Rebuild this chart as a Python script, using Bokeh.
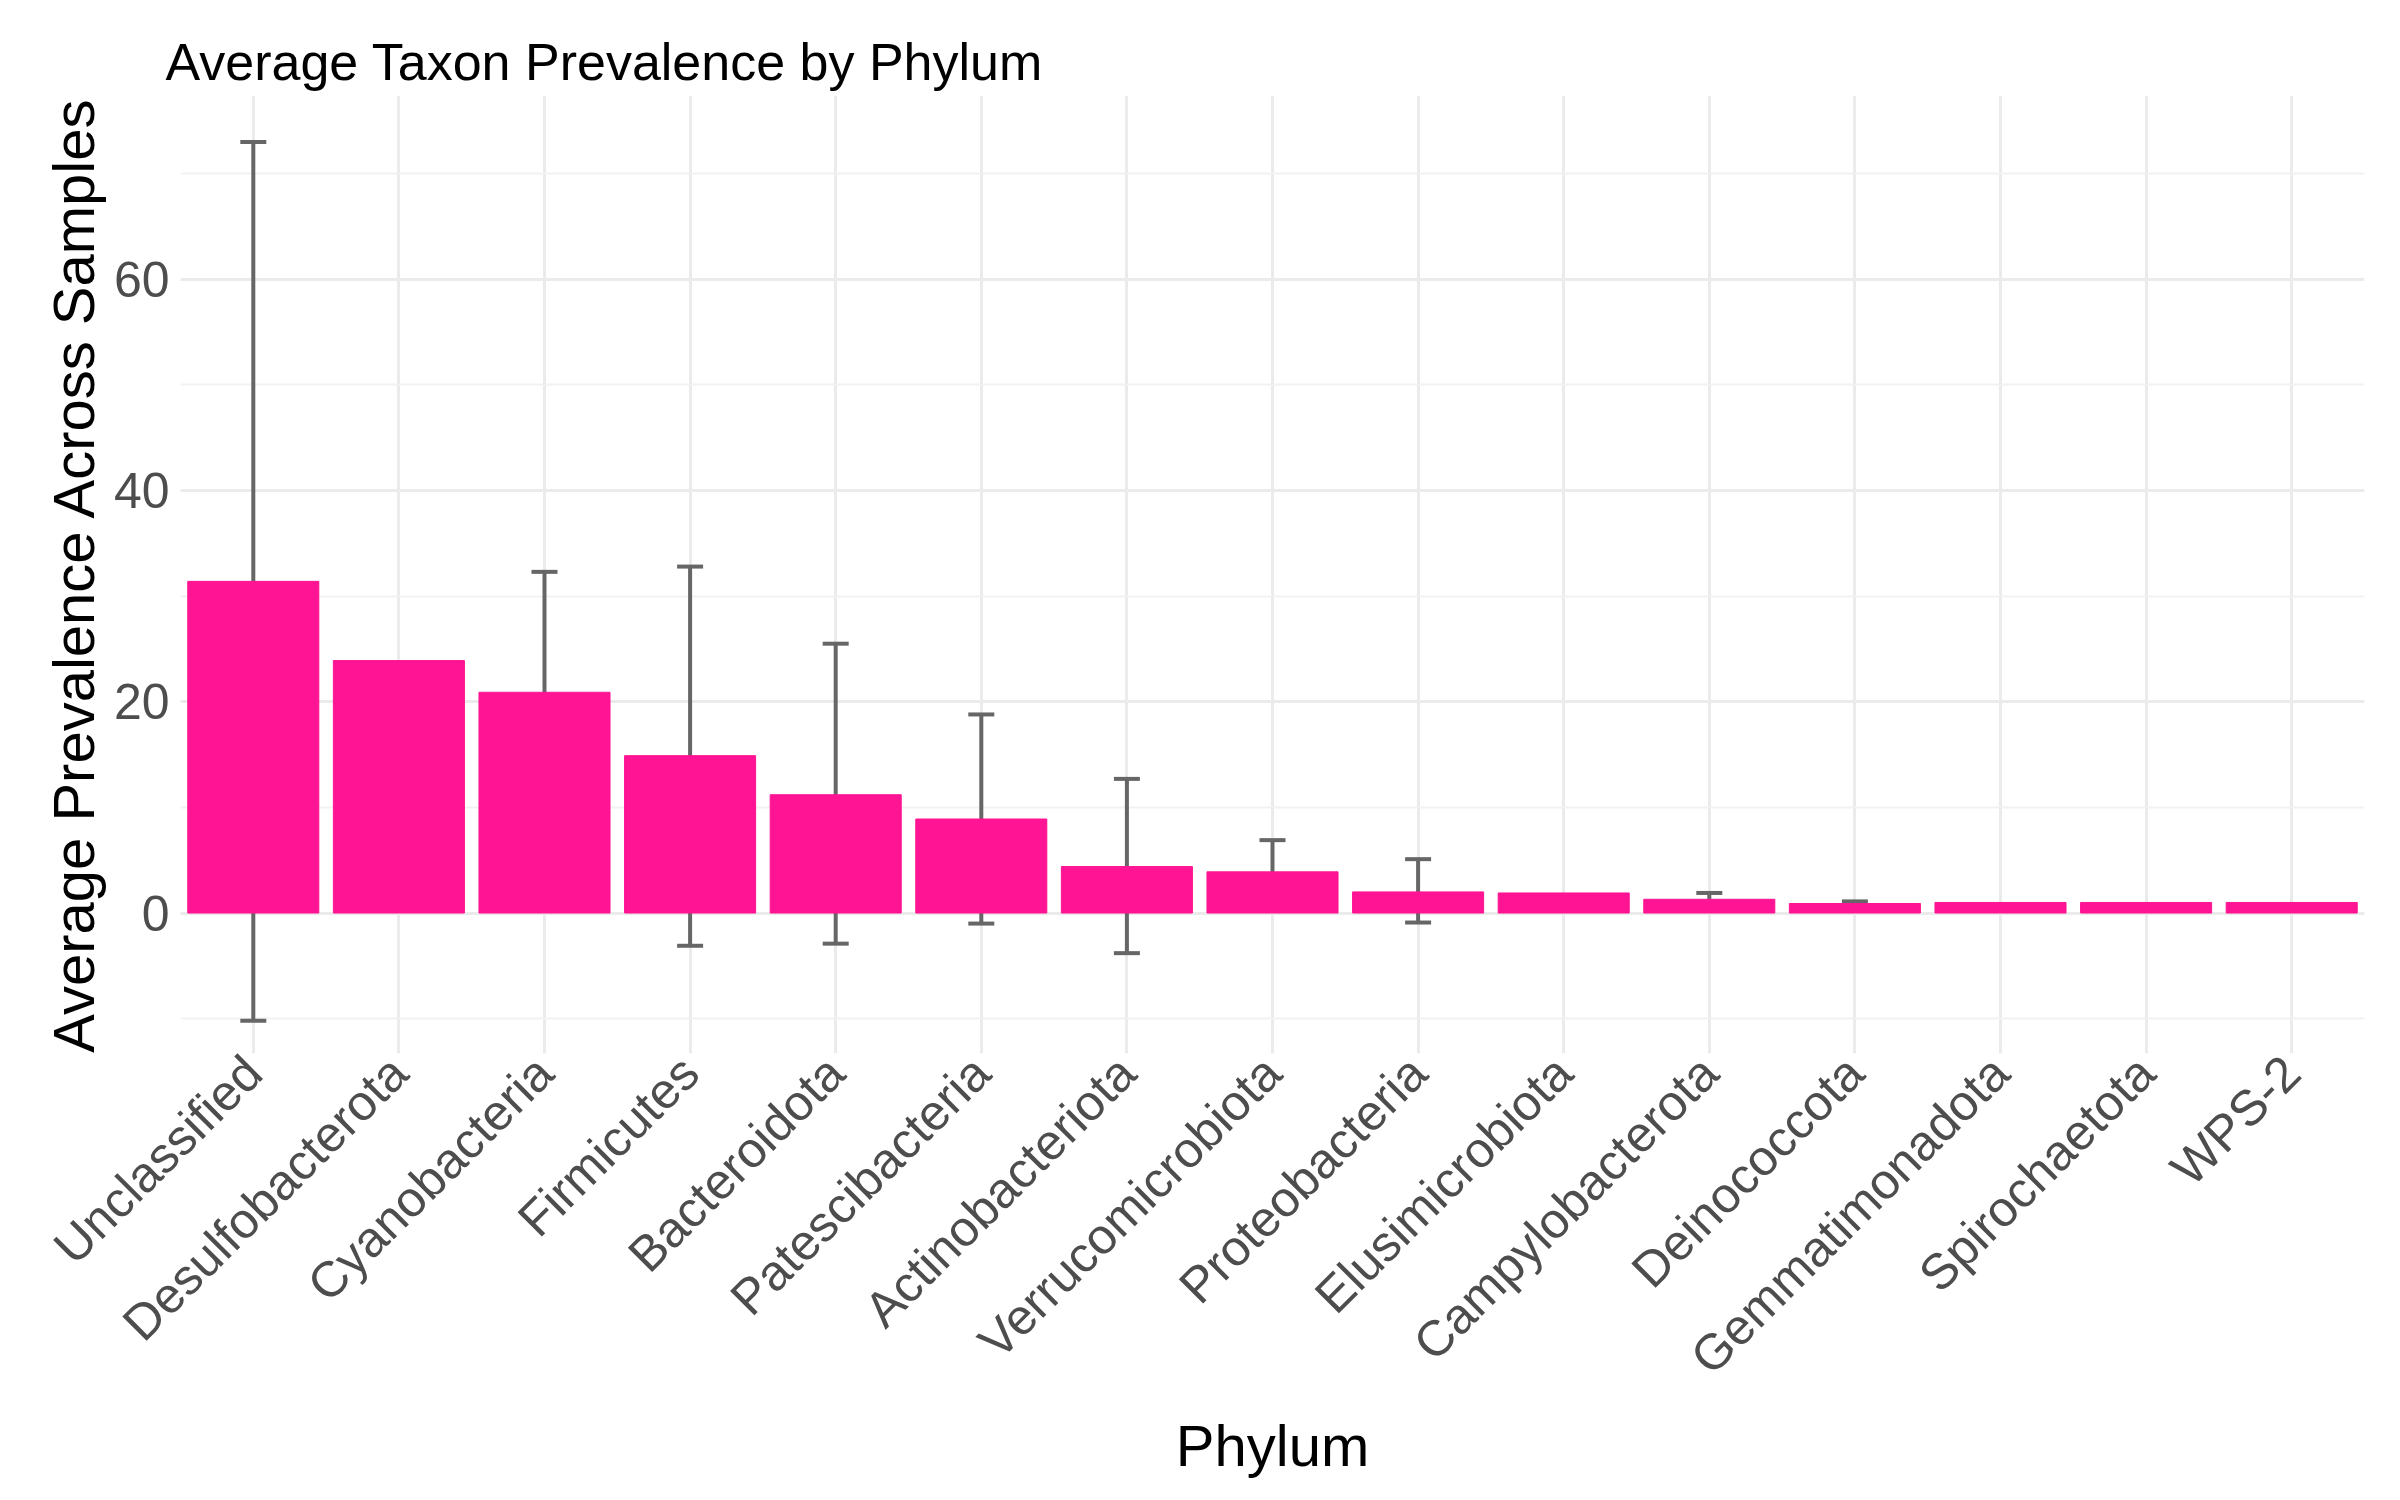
import math
from bokeh.plotting import figure
from bokeh.models import ColumnDataSource, Whisker, TeeHead, SingleIntervalTicker, Range1d
from bokeh.embed import file_html
from bokeh.resources import INLINE

phyla = ["Unclassified", "Desulfobacterota", "Cyanobacteria", "Firmicutes", "Bacteroidota",
         "Patescibacteria", "Actinobacteriota", "Verrucomicrobiota", "Proteobacteria",
         "Elusimicrobiota", "Campylobacterota", "Deinococcota", "Gemmatimonadota",
         "Spirochaetota", "WPS-2"]
prevalence = [31.4, 23.9, 20.9, 14.9, 11.2, 8.9, 4.4, 3.9, 2.0, 1.9, 1.3, 0.9, 1.0, 1.0, 1.0]
err_upper = [73.0, None, 32.3, 32.8, 25.5, 18.8, 12.7, 6.9, 5.1, None, 1.9, 1.1, None, None, None]
err_lower = [-10.2, None, 9.6, -3.1, -2.9, -1.0, -3.8, 1.0, -0.9, None, 0.7, 0.8, None, None, None]

FONT = "Liberation Sans"

p = figure(x_range=phyla, width=2384, height=1480, output_backend="svg",
           toolbar_location=None, title="Average Taxon Prevalence by Phylum",
           min_border_left=180, min_border_right=20, min_border_top=95)
p.y_range = Range1d(-13.3, 77.4)

p.vbar(x=phyla, top=prevalence, width=0.9, color="#FF1493")

ex = [f for f, u in zip(phyla, err_upper) if u is not None]
eu = [u for u in err_upper if u is not None]
el = [l for l in err_lower if l is not None]
esrc = ColumnDataSource(dict(x=ex, upper=eu, lower=el))
p.add_layout(Whisker(source=esrc, base="x", upper="upper", lower="lower",
                     line_color="#666666", line_width=4,
                     upper_head=TeeHead(size=26, line_color="#666666", line_width=4),
                     lower_head=TeeHead(size=26, line_color="#666666", line_width=4)))

p.yaxis.ticker = SingleIntervalTicker(interval=20, num_minor_ticks=2)
p.outline_line_color = None
p.background_fill_color = "white"
for ax in (p.xaxis, p.yaxis):
    ax.axis_line_color = None
    ax.major_tick_line_color = None
    ax.minor_tick_line_color = None
    ax.major_label_text_font = FONT
    ax.major_label_text_font_size = "50px"
    ax.major_label_text_color = "#4D4D4D"
    ax.axis_label_text_font = FONT
    ax.axis_label_text_font_size = "58px"
    ax.axis_label_text_font_style = "normal"
    ax.axis_label_text_color = "black"
p.xaxis.major_label_orientation = math.pi / 4
p.xaxis.axis_label = "Phylum"
p.yaxis.axis_label = "Average Prevalence Across Samples"

p.xgrid.grid_line_color = "#EBEBEB"
p.xgrid.grid_line_width = 3
p.ygrid.grid_line_color = "#EBEBEB"
p.ygrid.grid_line_width = 3
p.ygrid.minor_grid_line_color = "#F2F2F2"
p.ygrid.minor_grid_line_width = 2

p.title.text_font = FONT
p.title.text_font_size = "52px"
p.title.text_font_style = "normal"
p.title.text_color = "black"
p.title.offset = -15

open("out.html", "w").write(file_html(p, INLINE))
